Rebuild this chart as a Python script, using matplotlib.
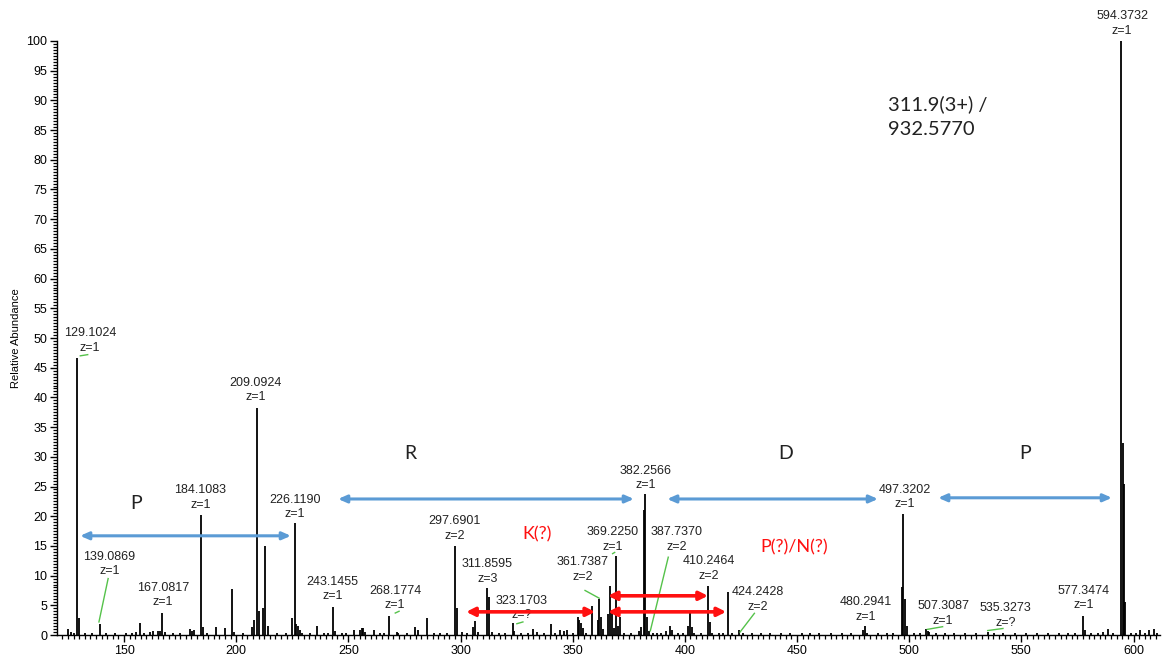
import matplotlib
matplotlib.use("Agg")
import matplotlib.pyplot as plt
from matplotlib.ticker import MultipleLocator

# ---- spectrum data (m/z, relative abundance) ----
mz = [124.9, 126.5, 127.8, 129.1024, 130.1, 132.5, 135.5, 139.0869, 142.0, 146.0,
      151.0, 153.5, 155.5, 157.1, 159.0, 161.5, 163.1, 165.2, 166.2, 167.0817,
      168.1, 172.0, 175.0, 179.4, 180.1, 181.1, 184.1083, 185.1, 187.0, 191.1,
      195.1, 198.1, 199.0, 203.0, 207.2, 208.0, 209.0924, 210.0, 211.8, 213.0,
      214.2, 218.0, 222.0, 224.9, 226.1190, 226.8, 227.5, 228.3, 229.5, 233.0,
      236.0, 239.0, 241.0, 243.1455, 244.2, 247.0, 249.0, 252.7, 255.2, 255.9,
      256.6, 257.5, 261.6, 264.0, 266.0, 268.1774, 271.5, 272.3, 276.0, 279.7,
      281.0, 285.2, 288.0, 291.0, 294.0, 297.6901, 298.3, 300.5, 303.0, 305.5,
      306.5, 308.0, 311.8595, 312.5, 314.0, 317.0, 320.0, 323.1703, 324.0, 327.0,
      330.0, 332.5, 334.0, 337.0, 340.2, 342.0, 344.5, 346.0, 347.5, 350.0,
      352.2, 353.0, 353.8, 354.6, 356.0, 358.5, 361.2, 361.7387, 362.5, 363.5,
      365.9, 366.7, 367.5, 368.3, 369.2250, 370.2, 371.3, 373.0, 376.0, 379.5,
      380.4, 381.9, 382.2566, 383.2, 384.0, 386.0, 387.7370, 389.5, 391.5, 393.4,
      394.2, 397.0, 399.0, 401.5, 402.3, 403.1, 404.0, 407.0, 410.2464, 411.0,
      412.0, 415.0, 417.0, 419.4, 421.0, 424.2428, 426.0, 430.0, 434.0, 438.0,
      443.0, 447.0, 452.0, 456.0, 460.0, 465.0, 470.0, 474.0, 479.5, 480.2941,
      481.3, 486.0, 490.0, 493.0, 496.8, 497.3202, 498.3, 499.0, 502.0, 505.0,
      507.3087, 508.3, 509.0, 512.0, 516.0, 520.0, 525.0, 530.0, 535.3273, 538.0,
      542.0, 547.0, 552.0, 557.0, 562.0, 567.0, 571.0, 574.0, 577.3474, 578.3,
      581.0, 584.0, 586.5, 588.5, 591.0, 594.3732, 595.1, 595.6, 596.4, 599.0,
      601.0, 603.0, 605.0, 607.0, 609.0, 610.5]
intensity = [1.0, 0.5, 0.4, 46.7, 2.9, 0.4, 0.3, 1.8, 0.3, 0.3,
             0.3, 0.4, 0.5, 2.1, 0.3, 0.5, 0.7, 0.7, 0.6, 3.75,
             0.5, 0.3, 0.3, 1.0, 0.6, 0.8, 20.2, 1.3, 0.3, 1.4,
             1.2, 7.7, 0.5, 0.3, 1.3, 2.6, 38.3, 4.0, 4.5, 15.0,
             1.5, 0.3, 0.3, 2.9, 18.9, 1.8, 1.5, 0.8, 0.4, 0.3,
             1.5, 0.3, 0.3, 4.7, 0.6, 0.3, 0.3, 0.8, 0.8, 1.1,
             1.2, 0.5, 0.9, 0.3, 0.3, 3.25, 0.5, 0.4, 0.3, 1.4,
             0.9, 2.8, 0.3, 0.4, 0.3, 15.0, 4.5, 0.5, 0.4, 1.3,
             2.4, 0.5, 7.9, 6.4, 0.5, 0.3, 0.4, 2.0, 0.6, 0.3,
             0.3, 1.0, 0.5, 0.4, 1.8, 0.4, 0.8, 0.6, 0.9, 0.4,
             3.1, 2.5, 2.0, 1.2, 0.4, 4.9, 2.5, 6.0, 3.0, 1.0,
             3.5, 8.3, 3.9, 1.2, 13.3, 1.5, 3.1, 0.4, 0.3, 0.6,
             1.3, 21.0, 23.7, 3.0, 0.6, 0.3, 0.4, 0.3, 0.6, 1.5,
             0.8, 0.3, 0.3, 1.5, 3.75, 1.3, 0.4, 0.3, 8.3, 2.2,
             0.4, 0.3, 0.4, 7.3, 0.3, 0.8, 0.3, 0.3, 0.3, 0.3,
             0.3, 0.3, 0.3, 0.3, 0.3, 0.3, 0.3, 0.3, 0.9, 1.5,
             0.4, 0.3, 0.3, 0.3, 8.1, 20.3, 6.1, 1.5, 0.3, 0.3,
             1.0, 0.7, 0.5, 0.3, 0.3, 0.3, 0.3, 0.3, 0.5, 0.3,
             0.3, 0.3, 0.3, 0.3, 0.3, 0.3, 0.3, 0.3, 3.25, 0.8,
             0.3, 0.3, 0.5, 1.0, 0.3, 100.0, 32.3, 25.5, 5.6, 0.4,
             0.3, 0.8, 0.3, 0.9, 1.0, 0.4]

# labelled ions: m/z text and charge text
label_mz = ["129.1024", "139.0869", "167.0817", "184.1083", "209.0924", "226.1190",
            "243.1455", "268.1774", "297.6901", "311.8595", "323.1703", "361.7387",
            "369.2250", "382.2566", "387.7370", "410.2464", "424.2428", "480.2941",
            "497.3202", "507.3087", "535.3273", "577.3474", "594.3732"]
label_z = ["z=1", "z=1", "z=1", "z=1", "z=1", "z=1",
           "z=1", "z=1", "z=2", "z=3", "z=?", "z=2",
           "z=1", "z=1", "z=2", "z=2", "z=2", "z=1",
           "z=1", "z=1", "z=?", "z=1", "z=1"]

# residue gaps (blue) and tentative gaps (red)
residues = ["P", "R", "D", "P"]
tentative = ["K(?)", "P(?)/N(?)"]
precursor = "311.9(3+) /\n932.5770"

# ---- figure ----
fig = plt.figure(figsize=(11.63, 6.59), dpi=100)
ax = fig.add_axes([0.049, 0.0364, 0.9484, 0.9014])
LBL = ["Liberation Sans", "DejaVu Sans"]
CAL = ["Lato", "DejaVu Sans"]

ax.vlines(mz, 0, intensity, color="black", lw=1.3)

ax.set_xlim(120.1, 611.8)
ax.set_ylim(0, 100)
for s in ("top", "right"):
    ax.spines[s].set_visible(False)
ax.spines["left"].set_linewidth(1.0)
ax.spines["bottom"].set_linewidth(1.0)

ax.xaxis.set_major_locator(MultipleLocator(50))
ax.xaxis.set_minor_locator(MultipleLocator(2.5))
ax.yaxis.set_major_locator(MultipleLocator(5))
ax.yaxis.set_minor_locator(MultipleLocator(0.5))
ax.tick_params(axis="both", which="major", length=5, width=1, labelsize=9, pad=2)
ax.tick_params(axis="both", which="minor", length=3, width=0.9)
for t in ax.get_xticklabels() + ax.get_yticklabels():
    t.set_family(LBL)
ax.set_ylabel("Relative Abundance", fontsize=8, family=LBL, labelpad=4)

# peak labels: (centre x, baseline y of the charge line)
label_pos = [(134.8, 47.3), (143.5, 9.7), (167.4, 4.5), (184.0, 20.9), (208.8, 39.0),
             (226.2, 19.3), (242.9, 5.5), (270.8, 4.0), (297.5, 15.7), (312.0, 8.4),
             (327.4, 2.3), (354.6, 8.8), (367.8, 13.8), (382.7, 24.2), (396.3, 13.8),
             (410.8, 9.0), (432.6, 3.7), (480.8, 2.0), (498.1, 21.0), (515.1, 1.4),
             (542.9, 1.0), (577.9, 4.0), (594.9, 100.7)]
for m, z, (lx, ly) in zip(label_mz, label_z, label_pos):
    ax.text(lx, ly, f"{m}\n{z}", ha="center", va="bottom", fontsize=9,
            family=LBL, color="#222222", linespacing=1.3, clip_on=False)

# green leader lines from labels to their peaks
leaders = [((130.5, 133.8), (47.0, 47.2)),
           ((138.8, 142.9), (2.2, 9.5)),
           ((270.9, 272.6), (3.7, 4.0)),
           ((325.1, 327.8), (1.9, 2.2)),
           ((355.5, 361.8), (7.5, 6.2)),
           ((367.8, 368.7), (13.7, 13.9)),
           ((384.6, 392.6), (0.7, 13.1)),
           ((424.6, 431.0), (0.5, 3.65)),
           ((508.1, 514.9), (0.95, 1.4)),
           ((535.0, 541.8), (0.75, 1.1))]
for xs, ys in leaders:
    ax.plot(xs, ys, color="#55c24a", lw=1.0, clip_on=False)

# blue residue gap arrows and letters
blue = "#5b9bd5"
gaps = [(130.4, 224.4, 16.7), (245.4, 377.3, 22.9), (392.1, 486.1, 22.9), (512.9, 590.4, 23.1)]
letter_pos = [(155.4, 22.2), (277.5, 30.6), (445.1, 30.6), (551.6, 30.6)]
for (x1, x2, y), r, (tx, ty) in zip(gaps, residues, letter_pos):
    ax.annotate("", xy=(x2, y), xytext=(x1, y),
                arrowprops=dict(arrowstyle="<|-|>,head_length=0.5,head_width=0.22",
                                color=blue, lw=2.2, shrinkA=0, shrinkB=0))
    ax.text(tx, ty, r, ha="center", va="center", fontsize=14, family=CAL, color="#222222")

# red tentative gap arrows
red = "#ff1010"
red_gaps = [(302.5, 360.0, 3.9), (365.7, 410.3, 6.6), (365.7, 418.4, 3.9)]
for x1, x2, y in red_gaps:
    ax.annotate("", xy=(x2, y), xytext=(x1, y),
                arrowprops=dict(arrowstyle="<|-|>,head_length=0.5,head_width=0.25",
                                color=red, lw=2.6, shrinkA=0, shrinkB=0))
ax.text(334.1, 16.9, tentative[0], ha="center", va="center", fontsize=13, family=CAL, color=red)
ax.text(448.7, 14.8, tentative[1], ha="center", va="center", fontsize=13, family=CAL, color=red)

# precursor annotation
ax.text(490.7, 90.8, precursor, ha="left", va="top", fontsize=14.5, family=CAL,
        color="#222222", linespacing=1.55)

fig.savefig("out.png", dpi=100)
